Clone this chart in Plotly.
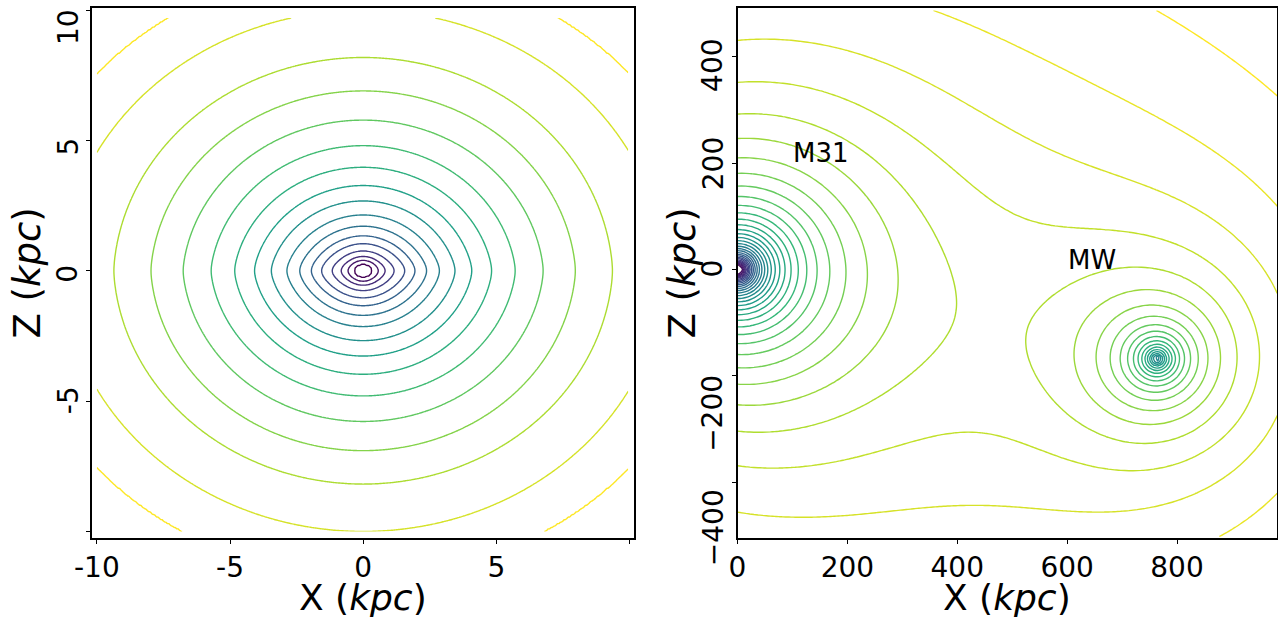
import numpy as np
import plotly.graph_objects as go

# ---------------- left panel: disc + bulge + halo potential in the X-Z plane ----------------
disc_mass = 1.0
disc_a = 1.4           # kpc, radial scale length (Miyamoto-Nagai)
disc_b = 0.25          # kpc, vertical scale height
bulge_mass = 0.1       # relative to the disc
bulge_c = 0.35         # kpc, Plummer core
halo_v2 = 0.15         # squared circular speed of the logarithmic halo
halo_core = 3.0        # kpc
halo_q = 0.87          # vertical flattening of the halo
disc_x = np.arange(-10.0, 9.96, 0.05)
disc_z = np.arange(-10.0, 9.71, 0.05)
# heights (kpc) at which the drawn equipotentials cut the Z axis, outermost first
disc_axis_heights = [11.7, 10.0, 8.18, 6.9, 5.78, 4.8, 3.97, 3.27, 2.68, 2.14,
                     1.71, 1.34, 1.04, 0.76, 0.55, 0.4, 0.26]

# ---------------- right panel: M31 + Milky Way haloes ----------------
m31_centre = (0.0, 0.0)        # kpc
mw_centre = (764.0, -168.0)    # kpc
m31_mass = 1.0                 # NFW amplitude, units of G*M_s(M31)
mw_mass = 0.51
m31_rs = 20.0                  # kpc
mw_rs = 20.0
lg_x = np.arange(0.0, 990.0, 7.5)
lg_z = np.arange(-502.5, 495.0, 7.5)
lg_axis_heights = [431.0, 352.0]   # kpc, two neighbouring levels on the Z axis
lg_levels_inside = 31
lg_levels_outside = 2

left_xticks = [-10, -5, 0, 5, 10]
left_xtick_text = ["-10", "-5", "0", "5", ""]
left_yticks = [10, 5, 0, -5, -10]
left_ytick_text = ["10", "5", "0", "-5", ""]
right_xticks = [0, 200, 400, 600, 800]
right_xtick_text = ["0", "200", "400", "600", "800"]
right_yticks = [400, 200, 0, -200, -400]
right_ytick_text = ["400", "200", "0", "\u2212200", "\u2212400"]

galaxy_names = ["M31", "MW"]
galaxy_label_x = [100, 600]
galaxy_label_z = [200, 0]


# ---------------- fields ----------------
def disc_depth(x, z):
    """-Phi of a Miyamoto-Nagai disc, a Plummer bulge and a flattened log halo (G = 1)."""
    disc = disc_mass / np.sqrt(x**2 + (disc_a + np.sqrt(z**2 + disc_b**2))**2)
    bulge = bulge_mass / np.sqrt(x**2 + z**2 + bulge_c**2)
    halo = -0.5 * halo_v2 * np.log(halo_core**2 + x**2 + (z / halo_q)**2)
    return disc + bulge + halo


DX, DZ = np.meshgrid(disc_x, disc_z)
depth = disc_depth(DX, DZ)
level_depths = disc_depth(0.0, np.array(disc_axis_heights))   # ascending
n_disc = len(disc_axis_heights)
knots = np.concatenate([[depth.min() - 1.0], level_depths, [depth.max() + 1.0]])
ranks = np.concatenate([[-1.0], np.arange(n_disc, dtype=float), [float(n_disc)]])
# level rank: 0 = innermost equipotential, n-1 = outermost
disc_field = (n_disc - 1) - np.interp(depth, knots, ranks)


def nfw(r, amp, rs):
    with np.errstate(divide="ignore", invalid="ignore"):
        return -amp * np.log1p(r / rs) / r


def local_group(x, z):
    r1 = np.hypot(x - m31_centre[0], z - m31_centre[1])
    r2 = np.hypot(x - mw_centre[0], z - mw_centre[1])
    return nfw(r1, m31_mass, m31_rs) + nfw(r2, mw_mass, mw_rs)


LX, LZ = np.meshgrid(lg_x, lg_z)
lg_field = local_group(LX, LZ)
lg_field = np.where(np.isfinite(lg_field), lg_field, np.nan)
lg_ref = float(local_group(0.0, lg_axis_heights[0]))
lg_step = float(local_group(0.0, lg_axis_heights[0]) - local_group(0.0, lg_axis_heights[1]))
lg_start = lg_ref - lg_levels_inside * lg_step
lg_end = lg_ref + lg_levels_outside * lg_step

# ---------------- figure ----------------
W, H = 1278, 619
fig = go.Figure()

fig.add_trace(go.Contour(
    x=disc_x, y=disc_z, z=disc_field, xaxis="x", yaxis="y",
    autocontour=False,
    contours=dict(coloring="lines", start=0, end=n_disc - 1, size=1),
    colorscale="Viridis", showscale=False, line=dict(width=1.4),
    hoverinfo="skip",
))
fig.add_trace(go.Contour(
    x=lg_x, y=lg_z, z=lg_field, xaxis="x2", yaxis="y2",
    autocontour=False,
    contours=dict(coloring="lines", start=lg_start, end=lg_end + 1e-12, size=lg_step),
    colorscale="Viridis", showscale=False, line=dict(width=1.4),
    hoverinfo="skip",
))

top_px, bottom_px = 8, 538
ydom = [1 - bottom_px / H, 1 - top_px / H]
font = "DejaVu Sans"
axis_common = dict(
    showline=True, mirror=True, linecolor="black", linewidth=1.6,
    ticks="outside", ticklen=4, tickwidth=1.2, tickcolor="black",
    showgrid=False, zeroline=False, automargin=False,
    tickfont=dict(family=font, size=28, color="black"),
)

fig.update_layout(
    width=W, height=H, margin=dict(l=0, r=0, t=0, b=0, autoexpand=False),
    paper_bgcolor="white", plot_bgcolor="white", showlegend=False,
    xaxis=dict(domain=[91.5 / W, 633.5 / W], range=[-10.2, 10.15],
               tickvals=left_xticks, ticktext=left_xtick_text, anchor="y", **axis_common),
    yaxis=dict(domain=ydom, range=[-10.25, 10.08], tickvals=left_yticks,
               showticklabels=False, anchor="x", **axis_common),
    xaxis2=dict(domain=[737.5 / W, 1277 / W], range=[0, 982],
                tickvals=right_xticks, ticktext=right_xtick_text, anchor="y2", **axis_common),
    yaxis2=dict(domain=ydom, range=[-505, 492], tickvals=right_yticks,
                showticklabels=False, anchor="x2", **axis_common),
)

ann = []
# rotated y tick labels
left_ytick_nudge = [-17, -6, -3, 1, 0]
right_ytick_nudge = [-8, 0, 1, -37, -45]
for v, t, s in zip(left_yticks, left_ytick_text, left_ytick_nudge):
    if t:
        ann.append(dict(xref="x domain", yref="y", x=0, y=v, xshift=-23.5, yshift=s,
                        text=t, textangle=-90, showarrow=False,
                        xanchor="center", yanchor="middle",
                        font=dict(family=font, size=28, color="black")))
for v, t, s in zip(right_yticks, right_ytick_text, right_ytick_nudge):
    ann.append(dict(xref="x2 domain", yref="y2", x=0, y=v, xshift=-24.5, yshift=s,
                    text=t, textangle=-90, showarrow=False,
                    xanchor="center", yanchor="middle",
                    font=dict(family=font, size=28, color="black")))

# axis titles
for xr, yr, zx in (("x domain", "y domain", -65), ("x2 domain", "y2 domain", -56)):
    ann.append(dict(xref=xr, yref=yr, x=0.5, y=0, yshift=-59, text="X (<i>kpc</i>)",
                    showarrow=False, xanchor="center", yanchor="middle",
                    font=dict(family=font, size=36, color="black")))
    ann.append(dict(xref=xr, yref=yr, x=0, y=0.5, xshift=zx, text="Z (<i>kpc</i>)",
                    textangle=-90, showarrow=False, xanchor="center", yanchor="middle",
                    font=dict(family=font, size=37, color="black")))

# galaxy names
for name, gx, gz in zip(galaxy_names, galaxy_label_x, galaxy_label_z):
    ann.append(dict(xref="x2", yref="y2", x=gx, y=gz, text=name, showarrow=False,
                    xanchor="left", yanchor="bottom", xshift=-1, yshift=-7,
                    font=dict(family=font, size=26, color="black")))

fig.update_layout(annotations=ann)
fig.write_html("out.html")
